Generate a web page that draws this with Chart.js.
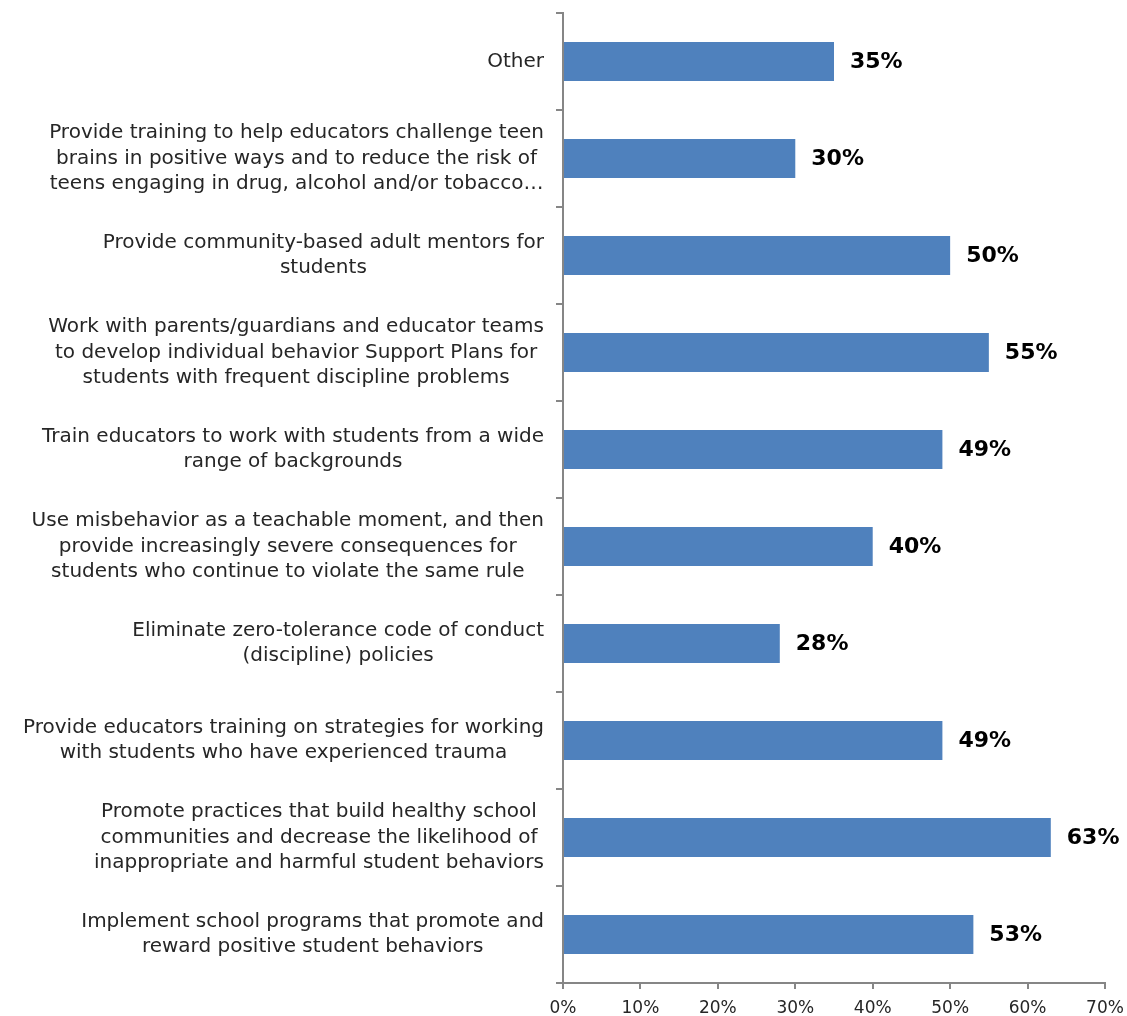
<!DOCTYPE html>
<html>
<head>
<meta charset="utf-8">
<script src="https://cdn.jsdelivr.net/npm/chart.js@4.4.1/dist/chart.umd.min.js"></script>
<style>
  html, body { margin: 0; padding: 0; background: #fff; }
  #wrap { width: 1127px; height: 1016px; }
</style>
</head>
<body>
<div id="wrap"><canvas id="strategyChart" width="1127" height="1016"></canvas></div>
<script>
// Survey responses, top to bottom
const categories = [
    ['Other'],
    ['Provide training to help educators challenge teen',
     'brains in positive ways and to reduce the risk of',
     'teens engaging in drug, alcohol and/or tobacco\u2026'],
    ['Provide community-based adult mentors for', 'students'],
    ['Work with parents/guardians and educator teams',
     'to develop individual behavior Support Plans for',
     'students with frequent discipline problems'],
    ['Train educators to work with students from a wide', 'range of backgrounds'],
    ['Use misbehavior as a teachable moment, and then',
     'provide increasingly severe consequences for',
     'students who continue to violate the same rule'],
    ['Eliminate zero-tolerance code of conduct', '(discipline) policies'],
    ['Provide educators training on strategies for working',
     'with students who have experienced trauma'],
    ['Promote practices that build healthy school',
     'communities and decrease the likelihood of',
     'inappropriate and harmful student behaviors'],
    ['Implement school programs that promote and', 'reward positive student behaviors']
];
const percentValues = [35, 30, 50, 55, 49, 40, 28, 49, 63, 53];
const xTicks = [0, 10, 20, 30, 40, 50, 60, 70];

const FONT = '"DejaVu Sans", sans-serif';
const AXIS_GRAY = '#868686';

// Category labels: lines centred on each other, block right-aligned to the axis
const categoryLabels = {
    id: 'categoryLabels',
    afterDraw(chart) {
        const ctx = chart.ctx;
        const scale = chart.scales.y;
        const rightEdge = scale.right - 19;
        const lineHeight = 25.5;
        ctx.save();
        ctx.font = '20px ' + FONT;
        ctx.fillStyle = '#262626';
        ctx.textAlign = 'center';
        ctx.textBaseline = 'middle';
        categories.forEach((lines, i) => {
            const y = scale.getPixelForValue(i);
            const maxW = Math.max(...lines.map(l => ctx.measureText(l).width));
            const cx = rightEdge - maxW / 2;
            lines.forEach((line, k) => {
                ctx.fillText(line, cx, y + (k - (lines.length - 1) / 2) * lineHeight);
            });
        });
        ctx.restore();
    }
};

// Bold value labels just past the end of each bar
const valueLabels = {
    id: 'valueLabels',
    afterDatasetsDraw(chart) {
        const ctx = chart.ctx;
        const meta = chart.getDatasetMeta(0);
        ctx.save();
        ctx.font = 'bold 22px ' + FONT;
        ctx.fillStyle = '#000';
        ctx.textAlign = 'left';
        ctx.textBaseline = 'middle';
        meta.data.forEach((bar, i) => {
            ctx.fillText(percentValues[i] + '%', bar.x + 16, bar.y + 1);
        });
        ctx.restore();
    }
};

new Chart(document.getElementById('strategyChart'), {
    type: 'bar',
    data: {
        labels: categories,
        datasets: [{
            data: percentValues,
            backgroundColor: '#4F81BD',
            borderWidth: 0,
            barPercentage: 0.8,
            categoryPercentage: 0.5
        }]
    },
    options: {
        indexAxis: 'y',
        responsive: false,
        animation: false,
        layout: { padding: { top: 13, right: 22, bottom: 0, left: 0 } },
        plugins: {
            legend: { display: false },
            tooltip: { enabled: false }
        },
        scales: {
            x: {
                min: 0,
                max: 70,
                afterBuildTicks: scale => { scale.ticks = xTicks.map(v => ({ value: v })); },
                afterFit: scale => {
                    scale.height = 33;
                    scale.paddingLeft = 0;
                    scale.paddingRight = 0;
                },
                border: { color: AXIS_GRAY, width: 2 },
                grid: { drawOnChartArea: false, drawTicks: true, tickLength: 6, color: AXIS_GRAY, lineWidth: 2 },
                ticks: {
                    color: '#262626',
                    padding: 9,
                    maxRotation: 0,
                    font: { family: FONT, size: 17 },
                    callback: v => v + '%'
                }
            },
            y: {
                afterFit: scale => { scale.width = 563; },
                border: { color: AXIS_GRAY, width: 2 },
                grid: { drawOnChartArea: false, drawTicks: true, tickLength: 7, color: AXIS_GRAY, lineWidth: 2 },
                ticks: { display: false }
            }
        }
    },
    plugins: [categoryLabels, valueLabels]
});
</script>
</body>
</html>
